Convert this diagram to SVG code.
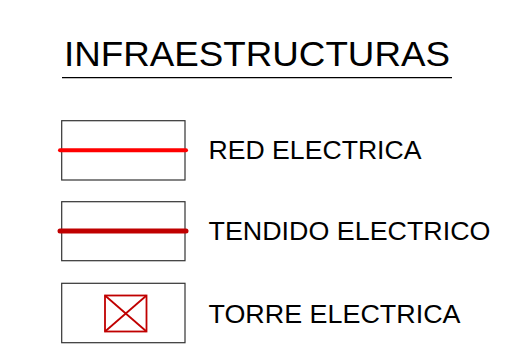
<svg xmlns="http://www.w3.org/2000/svg" width="505" height="364" viewBox="0 0 505 364">
<style>
text{font-family:"Liberation Sans",Arial,sans-serif;fill:#000}
.box{fill:#fff;stroke:#333;stroke-width:1.2}
.lbl{font-size:25.5px}
</style>
<rect width="505" height="364" fill="#fff"/>
<g id="title">
<text x="64" y="66" font-size="34.5" textLength="386" lengthAdjust="spacingAndGlyphs">INFRAESTRUCTURAS</text>
<line x1="62" y1="77.7" x2="452" y2="77.7" stroke="#000" stroke-width="1.2"/>
</g>
<g id="red-electrica">
<rect class="box" x="61.7" y="120.7" width="123.3" height="59.3"/>
<line x1="60" y1="150.3" x2="186" y2="150.3" stroke="#ff0000" stroke-width="4" stroke-linecap="round"/>
<text class="lbl" x="208.5" y="158.6" textLength="213" lengthAdjust="spacingAndGlyphs">RED ELECTRICA</text>
</g>
<g id="tendido-electrico">
<rect class="box" x="61.7" y="201.7" width="123.3" height="59"/>
<line x1="60" y1="231" x2="186" y2="231" stroke="#c00000" stroke-width="5" stroke-linecap="round"/>
<text class="lbl" x="208.5" y="240.2" textLength="282" lengthAdjust="spacingAndGlyphs">TENDIDO ELECTRICO</text>
</g>
<g id="torre-electrica">
<rect class="box" x="61.7" y="283.3" width="123.3" height="59.4"/>
<g stroke="#c00000" stroke-width="1.8" fill="none">
<rect x="105" y="295.5" width="41.5" height="36"/>
<line x1="105" y1="295.5" x2="146.5" y2="331.5"/>
<line x1="146.5" y1="295.5" x2="105" y2="331.5"/>
</g>
<text class="lbl" x="208.5" y="322.7" textLength="252" lengthAdjust="spacingAndGlyphs">TORRE ELECTRICA</text>
</g>
</svg>
